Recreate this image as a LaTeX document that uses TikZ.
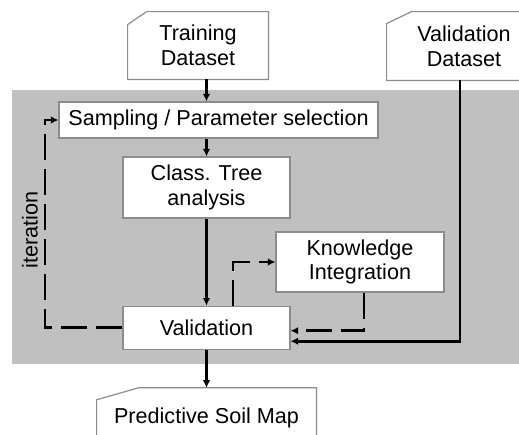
\documentclass[tikz,border=0pt]{standalone}
\usepackage{fontspec}
\setmainfont{Liberation Sans}
\usetikzlibrary{arrows.meta, positioning}
\usepackage{xcolor}
\definecolor{panelgray}{HTML}{C0C0C0}
\definecolor{edgegray}{HTML}{8C8C8C}

\begin{document}
\begin{tikzpicture}[
x=0.5pt, y=-0.5pt,
font=\fontsize{10.8}{12.4}\selectfont,
box/.style={draw=edgegray,
fill=white,
line width=0.6pt,
rectangle,
inner sep=0pt,
align=center},
card/.style={fill=white,
rectangle,
inner sep=0pt,
align=center},
cardline/.style={draw=edgegray, line width=0.6pt},
arrow/.style={-{Latex[length=3.8pt,width=3.8pt]}, line width=1.3pt},
dasharrow/.style={arrow, dash pattern=on 13pt off 4.5pt}
]

\clip (0,0) rectangle (519,434);
\fill[panelgray] (12,90) rectangle (519,364);

% data cards
\node[card, minimum width=70pt, minimum height=33.5pt] (training) at (198,45.5) {Training\\Dataset};
\draw[cardline] ([yshift=-6.5pt]training.north west) -- ([xshift=9.5pt]training.north west) -- (training.north east) -- (training.south east) -- (training.south west) -- cycle;

\node[card, minimum width=77pt, minimum height=34pt] (validdata) at (464,46) {Validation\\Dataset};
\draw[cardline] ([yshift=-6pt]validdata.north west) -- ([xshift=12.5pt]validdata.north west) -- (validdata.north east) -- (validdata.south east) -- (validdata.south west) -- cycle;

% process boxes
\node[box, minimum width=159.5pt, minimum height=18pt] (sampling) at (218.5,120) {Sampling / Parameter selection};
\node[box, minimum width=83.5pt, minimum height=30.5pt] (tree) at (206.5,187.5) {Class. Tree\\analysis};
\node[box, minimum width=84pt, minimum height=30pt] (knowledge) at (360,262) {Knowledge\\Integration};
\node[box, minimum width=83.5pt, minimum height=21.5pt, below=43.5pt of tree] (validation) {Validation};

\node[card, minimum width=109.5pt, minimum height=30pt, below=19pt of validation] (soilmap) {Predictive Soil Map};
\draw[cardline] ([yshift=-6pt]soilmap.north west) -- ([xshift=21pt]soilmap.north west) -- (soilmap.north east) -- (soilmap.south east) -- (soilmap.south west) -- cycle;

\node[rotate=90] (iterlabel) at (30,230) {iteration};
\coordinate (iterturn) at (45,120);

% flow
\draw[arrow] (training.south -| tree.north) -- (sampling.north -| tree.north);
\draw[arrow] (sampling.south -| tree.north) -- (tree.north);
\draw[arrow] (tree) -- (validation);
\draw[arrow] (validation) -- (soilmap);
\draw[arrow] ([xshift=-2pt]validdata.south) |- ([yshift=-6.75pt]validation.east);

% feedback
\draw[dasharrow] ([xshift=2pt]knowledge.south) |- ([yshift=-1.5pt]validation.east);
\draw[dasharrow] ([xshift=13.25pt]validation.north) |- (knowledge.west);
\draw[dasharrow] (validation.west) -| (iterturn) -- (sampling.west);

\end{tikzpicture}
\end{document}
